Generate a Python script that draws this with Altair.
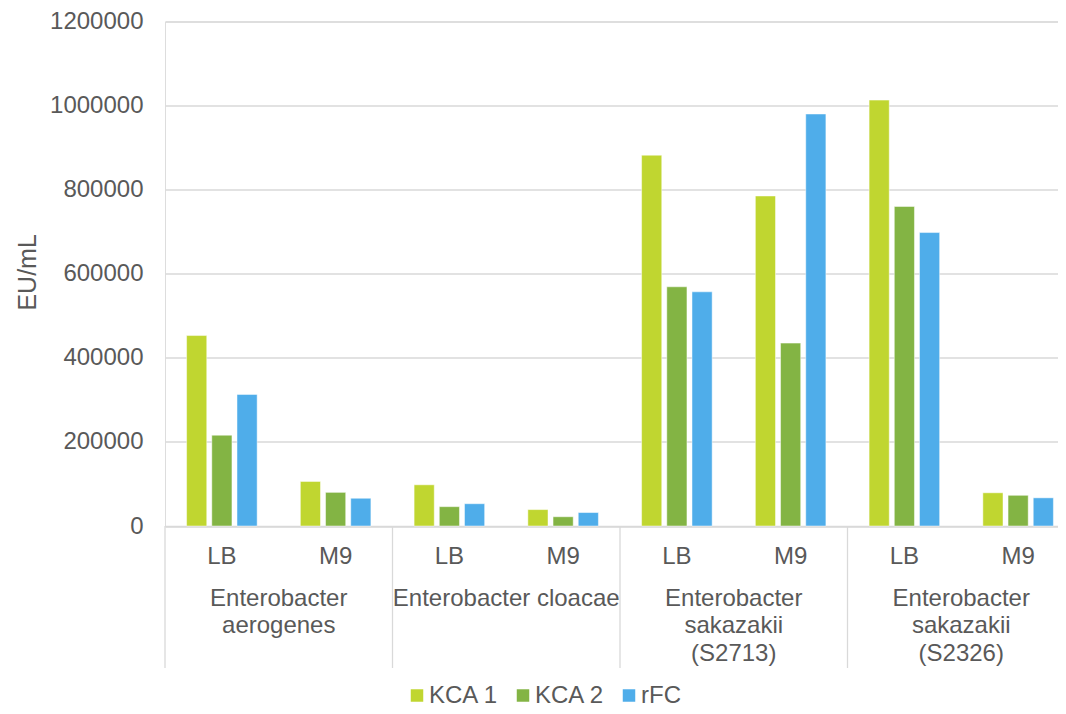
import altair as alt
import pandas as pd

groups = ["Enterobacter aerogenes", "Enterobacter cloacae",
          "Enterobacter sakazakii (S2713)", "Enterobacter sakazakii (S2326)"]
group_labels = ["Enterobacter\naerogenes", "Enterobacter cloacae",
                "Enterobacter\nsakazakii\n(S2713)", "Enterobacter\nsakazakii\n(S2326)"]
media = ["LB", "M9"]
series = ["KCA 1", "KCA 2", "rFC"]
colors = ["#C0D630", "#83B444", "#4FADEA"]

kca1 = [453000, 106000, 98000, 39000, 882000, 785000, 1013000, 79000]
kca2 = [216000, 80000, 46000, 22000, 569000, 435000, 760000, 73000]
rfc = [313000, 66000, 53000, 32000, 557000, 980000, 698000, 67000]
y_ticks = [0, 200000, 400000, 600000, 800000, 1000000, 1200000]

cats = [f"{g}|{m}" for g in groups for m in media]
rows = []
for s, vals in zip(series, [kca1, kca2, rfc]):
    for c, v in zip(cats, vals):
        rows.append({"cat": c, "series": s, "value": v})
df = pd.DataFrame(rows)

lab_df = pd.DataFrame({"cat": [f"{g}|M9" for g in groups], "label": group_labels})
sep_df = pd.DataFrame({"cat": [f"{g}|LB" for g in groups]})

FONT = "Liberation Sans"
GREY = "#595959"
LINE = "#d9d9d9"
FS = 24

xscale = alt.Scale(domain=cats, range=[0, 910], paddingInner=0, paddingOuter=0)

bars = alt.Chart(df).mark_bar(stroke="white", strokeWidth=0.8, strokeOpacity=0.6).encode(
    x=alt.X("cat:N", scale=xscale,
            axis=alt.Axis(title=None, labelExpr="split(datum.value, '|')[1]",
                          ticks=False, tickSize=0, labelPadding=37.3,
                          labelBaseline="alphabetic", labelAngle=0,
                          labelFontSize=FS, labelColor=GREY, labelFont=FONT,
                          domainColor=LINE, domainWidth=1.3, grid=False)),
    xOffset=alt.XOffset("series:N", scale=alt.Scale(domain=series, paddingInner=0.2, paddingOuter=0.857)),
    y=alt.Y("value:Q", scale=alt.Scale(domain=[0, 1200000], nice=False),
            axis=alt.Axis(title="EU/mL", values=y_ticks, format="d", ticks=False, tickSize=0,
                          domain=False, labelPadding=22, labelFontSize=FS, labelColor=GREY,
                          labelFont=FONT, gridColor=LINE, gridWidth=1.3,
                          titleFontSize=25, titleFontWeight="normal", titleColor=GREY,
                          titleFont=FONT, titleAngle=-90, titleBaseline="alphabetic",
                          titleAlign="center", titleX=-129.5, titleY=250.4)),
    color=alt.Color("series:N", scale=alt.Scale(domain=series, range=colors),
                    legend=alt.Legend(title=None, orient="none", legendX=240, legendY=662,
                                      direction="horizontal", symbolType="square",
                                      symbolSize=156, symbolStrokeWidth=0,
                                      labelFontSize=FS, labelColor=GREY, labelFont=FONT,
                                      labelOffset=0, columnPadding=12, padding=0)),
)

seps = alt.Chart(sep_df).mark_rule(color=LINE, strokeWidth=1.3).encode(
    x=alt.X("cat:N", scale=xscale, bandPosition=0),
    y=alt.value(504.5),
    y2=alt.value(646.5),
)

labels = alt.Chart(lab_df).mark_text(
    lineBreak="\n", lineHeight=27.6, baseline="alphabetic", align="center",
    fontSize=FS, color=GREY, font=FONT
).encode(
    x=alt.X("cat:N", scale=xscale, bandPosition=0),
    y=alt.value(584.2),
    text="label:N",
)

chart = alt.layer(bars, seps, labels).properties(
    width=893, height=504.5,
    autosize=alt.AutoSizeParams(type="none"),
    padding={"left": 157, "top": 13.5, "right": 0, "bottom": 180},
).configure_view(strokeWidth=0).configure(font=FONT)

chart.save("out.html", embed_options={"renderer": "svg", "actions": False})
